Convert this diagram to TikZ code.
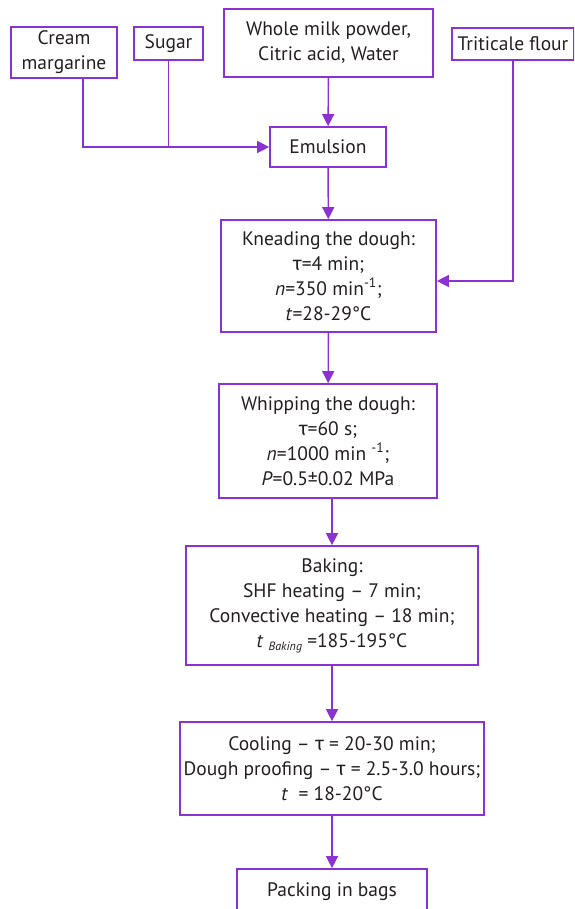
\documentclass[tikz,border=0pt]{standalone}
\usepackage{fontspec}
\setmainfont{PT Sans}
\newfontfamily\greekfont{Fira Sans}
\usetikzlibrary{arrows.meta}
\definecolor{flowpurple}{RGB}{140,50,210}
\definecolor{flowtext}{RGB}{35,31,32}
\newcommand{\tauchar}{{\greekfont τ}}
\newcommand{\lowsub}[1]{\raisebox{-3pt}{\fontsize{12}{12}\selectfont\textit{#1}}}

\tikzset{
  stage/.style={draw=flowpurple, line width=1.7pt, inner sep=0pt, align=center,
    text=flowtext, font=\fontsize{19.5}{25}\selectfont},
  flowline/.style={draw=flowpurple, line width=1.4pt},
  feed/.style={flowline, -{Triangle[length=12pt,width=12pt]}},
}

\begin{document}
\begin{tikzpicture}[x=1pt, y=-1pt]
	\useasboundingbox (0,0) rectangle (574,909);
	\clip (0,0) rectangle (574,909);

	% ingredients
	\node[stage, minimum width=106pt, minimum height=51pt] (cream) at (64,52.5) {Cream\\margarine};
	\node[stage, minimum width=69pt, minimum height=33pt] (sugar) at (168.5,43.5) {Sugar};
	\node[stage, minimum width=209pt, minimum height=68pt] (milk) at (328.5,43) {Whole milk powder,\\Citric acid, Water};
	\node[stage, minimum width=122pt, minimum height=32pt] (flour) at (513,44) {Triticale flour};

	% process stages
	\node[stage, minimum width=116pt, minimum height=40pt] (emul) at (328,147) {Emulsion};
	\node[stage, minimum width=215pt, minimum height=112pt] (knead) at (328.5,276)
		{Kneading the dough:\\ \tauchar=4 min;\\ \textit{n}=350 min\textsuperscript{-1};\\ \textit{t}=28-29°C};
	\node[stage, minimum width=218pt, minimum height=114pt] (whip) at (328,441)
		{Whipping the dough:\\ \tauchar=60 s;\\ \textit{n}=1000 min \textsuperscript{-1};\\ \textit{P}=0.5±0.02 MPa};
	\node[stage, minimum width=292pt, minimum height=119pt] (bake) at (332,605.5)
		{Baking:\\ SHF heating – 7 min;\\ Convective heating – 18 min;\\ \textit{t} \lowsub{Baking} =185-195°C};
	\node[stage, minimum width=304pt, minimum height=93pt] (cool) at (332,768.5)
		{Cooling – \tauchar{} = 20-30 min;\\ Dough proofing – \tauchar{} = 2.5-3.0 hours;\\ \textit{t} \ = 18-20°C};
	\node[stage, minimum width=190pt, minimum height=46pt] (pack) at (332,892) {Packing in bags};

	% connectors
	\draw[feed] ([xshift=19pt]cream.south) |- (emul.west);
	\draw[flowline] (sugar.south) -- (sugar.south |- emul.west);
	\draw[feed] (milk) -- (emul);
	\draw[feed] (emul) -- (knead);
	\draw[feed] (flour.south) |- ([yshift=-5pt]knead.east);
	\draw[feed] (knead) -- (whip);
	\draw[feed] (bake.north |- whip.south) -- (bake.north);
	\draw[feed] (bake) -- (cool);
	\draw[feed] (cool) -- (pack);
\end{tikzpicture}
\end{document}
